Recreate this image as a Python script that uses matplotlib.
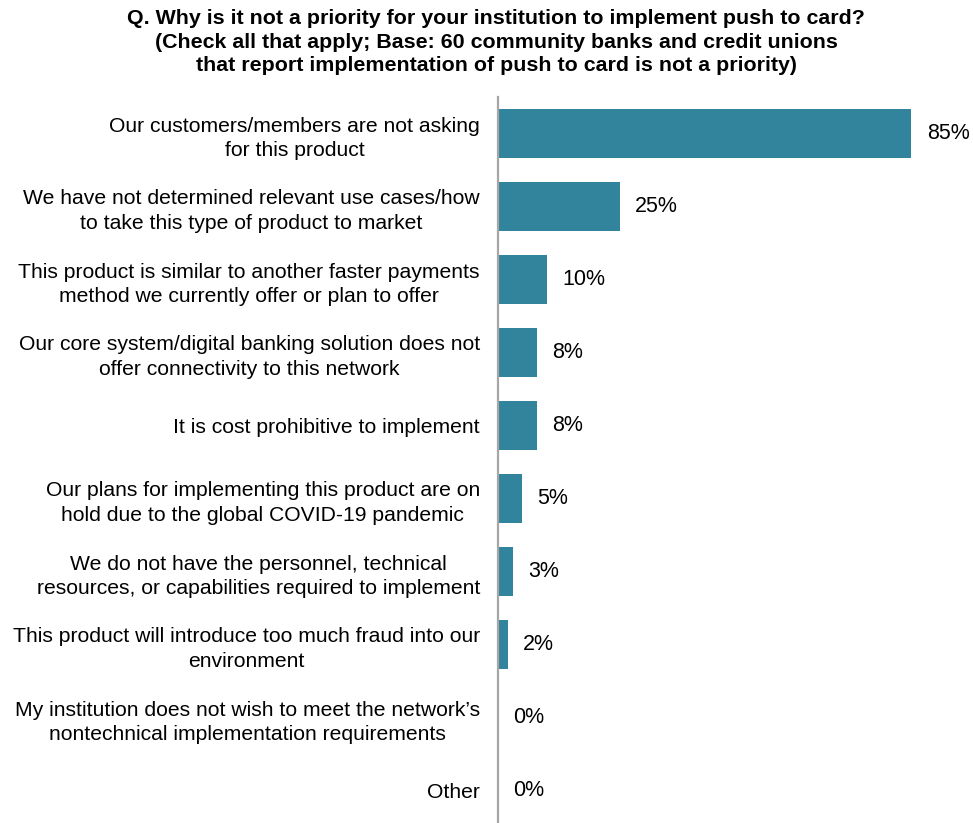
import matplotlib
matplotlib.use("Agg")
import matplotlib.pyplot as plt

# survey results, percent of respondents
reasons = [
    "Our customers/members are not asking\nfor this product",
    "We have not determined relevant use cases/how\nto take this type of product to market",
    "This product is similar to another faster payments\nmethod we currently offer or plan to offer",
    "Our core system/digital banking solution does not\noffer connectivity to this network",
    "It is cost prohibitive to implement",
    "Our plans for implementing this product are on\nhold due to the global COVID-19 pandemic",
    "We do not have the personnel, technical\nresources, or capabilities required to implement",
    "This product will introduce too much fraud into our\nenvironment",
    "My institution does not wish to meet the network\u2019s\nnontechnical implementation requirements",
    "Other",
]
pct = [85, 25, 10, 8, 8, 5, 3, 2, 0, 0]

title = ("Q. Why is it not a priority for your institution to implement push to card?\n"
         "(Check all that apply; Base: 60 community banks and credit unions\n"
         "that report implementation of push to card is not a priority)")

plt.rcParams['font.family'] = ['Liberation Sans', 'DejaVu Sans']

bar_color = "#31849B"

fig = plt.figure(figsize=(9.73, 8.23), dpi=100)
ax = fig.add_axes([498 / 973, -4 / 823, 462 / 973, 730 / 823])

y = list(range(len(pct)))
ax.barh(y, pct, height=0.67, color=bar_color)
ax.set_ylim(len(pct) - 0.5, -0.5)
ax.set_xlim(0, 95)

for yi, v in zip(y, pct):
    ax.annotate(f"{v}%", xy=(v, yi), xytext=(11, 0), textcoords="offset points",
                ha="left", va="center", fontsize=15.5, clip_on=False)

ax.set_yticks(y)
ax.set_yticklabels(reasons, fontsize=15.2, multialignment="center", linespacing=1.38)
ax.tick_params(axis="y", length=0, pad=13)
ax.set_xticks([])
for s in ["top", "right", "bottom"]:
    ax.spines[s].set_visible(False)
ax.spines["left"].set_color("#A6A6A6")
ax.spines["left"].set_linewidth(1.6)

fig.text(0.51, 1 - 42 / 823, title, ha="center", va="center", fontsize=15.4,
         fontweight="bold", linespacing=1.3)

fig.savefig("out.png", dpi=100)
